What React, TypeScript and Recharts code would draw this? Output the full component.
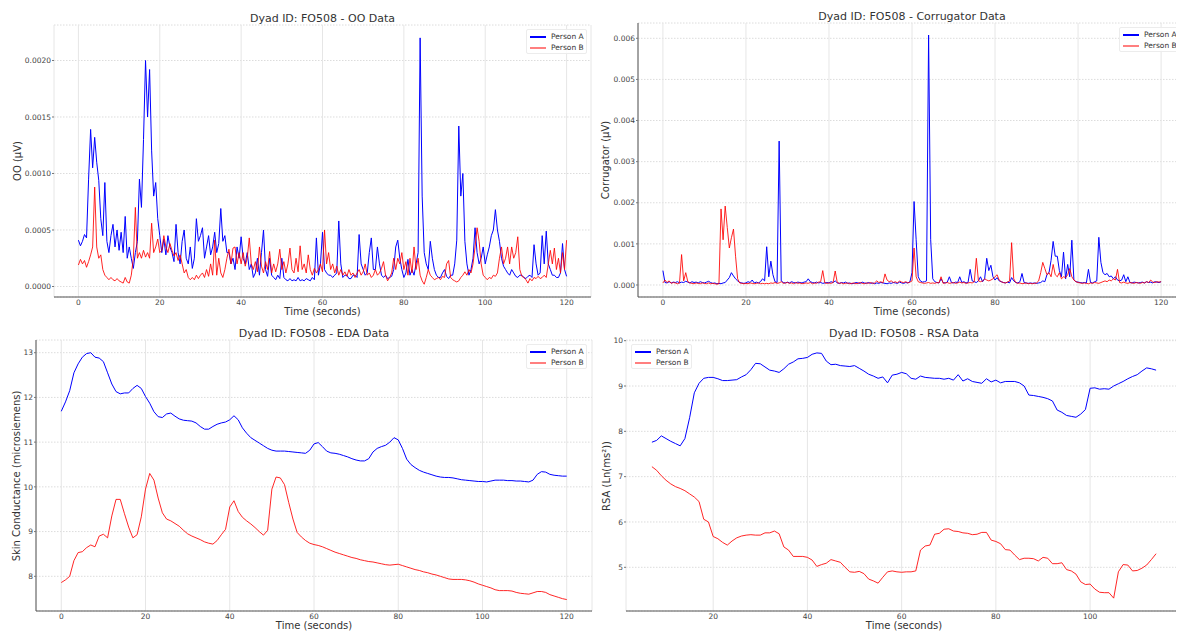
import { LineChart, Line, XAxis, YAxis, CartesianGrid } from "recharts";

const FONT = "'DejaVu Sans', Verdana, sans-serif";
const BLUE = "#0000ff";
const RED = "#ff0000";

// EMG signals are sampled every half second from 0 to 120 s
const EMG_STEP = 0.5;

const OO_A = [
  0.00041, 0.00036, 0.0004, 0.00046, 0.00043, 0.00095, 0.00139, 0.00105, 0.00132, 0.0011,
  0.00094, 0.0006, 0.00045, 0.00092, 0.0004, 0.0003, 0.00045, 0.00055, 0.00035, 0.0005,
  0.00032, 0.00048, 0.0003, 0.00062, 0.00025, 0.00035, 0.00025, 0.00016, 0.0003, 0.0004,
  0.00095, 0.0007, 0.0013, 0.002, 0.0015, 0.00192, 0.0012, 0.0008, 0.00092, 0.0006,
  0.00045, 0.0003, 0.00042, 0.00028, 0.00045, 0.00035, 0.0003, 0.00022, 0.00055, 0.0003,
  0.0002, 0.0004, 0.0005, 0.00025, 0.0002, 0.00035, 0.00016, 0.00025, 0.0006, 0.0004,
  0.00045, 0.00052, 0.00025, 0.00035, 0.00045, 0.00028, 0.00035, 0.00048, 0.0003, 0.00038,
  0.00069, 0.0004, 0.00045, 0.0003, 0.0003, 0.0002, 0.00025, 0.00015, 0.00035, 0.00025,
  0.00044, 0.00025, 0.0002, 0.0003, 0.00015, 0.0002, 0.00008, 0.00012, 0.00025, 0.0001,
  0.0003, 0.0005, 0.00015, 0.00009, 0.00025, 0.0001, 0.00008, 0.00006, 0.0001, 0.00007,
  0.00025, 0.00008, 0.00006, 0.00005, 0.00007, 0.00005, 0.00006, 0.00005, 0.00008, 0.00005,
  0.00006, 0.00005, 0.00007, 0.00006, 0.00005, 0.00008, 0.00006, 0.00043, 0.0001, 0.0002,
  0.00048, 0.00015, 0.00012, 0.0001, 0.0001, 0.00008, 0.0001, 0.00012, 0.00058, 0.0002,
  0.00008, 0.0001, 0.0001, 0.00007, 0.00007, 0.0001, 0.0001, 0.00008, 0.00046, 0.0002,
  0.00015, 0.0001, 0.00012, 0.0003, 0.00043, 0.00015, 0.00015, 0.00035, 0.0002, 0.0001,
  0.00008, 0.0001, 0.00007, 0.00008, 0.00009, 0.00015, 0.00035, 0.00041, 0.00025, 0.00015,
  0.00008, 0.00012, 0.00024, 0.0001, 0.00015, 0.0001, 0.0002, 0.0003, 0.0022, 0.0008,
  0.0003, 0.0002, 0.00015, 0.0004, 0.00025, 0.00015, 0.0001, 0.00008, 0.00008, 0.00012,
  0.00015, 0.00009, 0.00007, 0.0001, 0.0001, 0.0002, 0.00041, 0.00142, 0.0008, 0.001,
  0.0004, 0.0002, 0.0001, 0.00015, 0.00025, 0.00052, 0.0003, 0.0002, 0.00025, 0.00035,
  0.0002, 0.00028, 0.00035, 0.00045, 0.0005, 0.00068, 0.0005, 0.0004, 0.00025, 0.00018,
  0.00015, 0.00012, 0.0001, 0.00015, 0.00012, 0.00009, 0.00008, 0.0001, 0.0001, 0.00008,
  0.00007, 0.00009, 0.0001, 0.00008, 0.00037, 0.0002, 0.0001, 0.00012, 0.00045, 0.0002,
  0.00049, 0.0002, 0.00015, 0.0001, 0.0001, 0.00008, 0.00008, 0.00012, 0.00038, 0.00015,
  0.00009,
];

const OO_B = [
  0.00019, 0.00024, 0.0002, 0.00023, 0.00017, 0.00022, 0.00028, 0.00035, 0.00088, 0.00035,
  0.00025, 0.00028, 0.00015, 0.0001, 0.00008, 0.00006, 0.00008, 0.00006, 0.00005, 0.00007,
  0.00005, 0.00004, 0.00003, 0.00008, 0.00004, 0.00003, 0.0001, 0.00025, 0.0007, 0.00025,
  0.0003, 0.00025, 0.00032, 0.00026, 0.0003, 0.00025, 0.00056, 0.0003, 0.00035, 0.00042,
  0.0003, 0.00032, 0.00045, 0.00035, 0.0003, 0.00038, 0.00032, 0.00027, 0.0003, 0.00023,
  0.00028, 0.0002, 0.00012, 0.00015, 0.00008, 0.00006, 0.00008, 0.00006, 0.0001, 0.00007,
  0.0001, 0.00012, 0.00008, 0.00015, 0.00009, 0.0002, 0.0001, 0.00041, 0.0001, 0.00025,
  0.00012, 0.00008, 0.00015, 0.00025, 0.00033, 0.0002, 0.00034, 0.00035, 0.0002, 0.0003,
  0.0002, 0.0003, 0.00018, 0.00025, 0.00043, 0.0002, 0.00015, 0.00022, 0.00013, 0.00035,
  0.00018, 0.00012, 0.00022, 0.00015, 0.00031, 0.00012, 0.0002, 0.00013, 0.0002, 0.00033,
  0.00015, 0.00022, 0.00012, 0.0002, 0.00034, 0.00015, 0.00012, 0.00025, 0.00013, 0.00036,
  0.00015, 0.0002, 0.00012, 0.00028, 0.00015, 0.0001, 0.00016, 0.00012, 0.00015, 0.0002,
  0.00013, 0.0005, 0.0002, 0.0003, 0.00015, 0.0002, 0.00012, 0.00018, 0.0001, 0.00015,
  0.0001, 0.00013, 0.00009, 0.00015, 0.0001, 0.00012, 0.00008, 0.00012, 0.00015, 0.0001,
  0.00013, 0.0002, 0.0001, 0.00012, 0.00008, 0.0001, 0.00015, 0.0001, 0.00012, 0.00016,
  0.00022, 0.0001, 0.00005, 0.00008, 0.00012, 0.00025, 0.00015, 0.00025, 0.0002, 0.0003,
  0.00015, 0.00022, 0.0001, 0.00025, 0.00012, 0.00035, 0.00015, 0.00025, 0.0001, 0.00005,
  0.00002, 0.00008, 0.00015, 0.0001, 0.00008, 0.00006, 0.00007, 0.00008, 0.00006, 0.00009,
  0.00008, 0.0002, 0.00023, 0.00008, 0.00006, 0.00005, 0.00004, 0.00005, 0.00008, 0.0001,
  0.00013, 0.0001, 0.00015, 0.00012, 0.0002, 0.00035, 0.00052, 0.0004, 0.0002, 0.0001,
  0.00008, 0.00006, 0.00008, 0.00007, 0.0001, 0.00009, 0.00012, 0.00025, 0.00035, 0.0002,
  0.00025, 0.00035, 0.0002, 0.00035, 0.00025, 0.0003, 0.00044, 0.00015, 0.00009, 0.00008,
  0.00006, 0.00003, 0.00007, 0.00005, 0.00008, 0.00007, 0.00009, 0.00007, 0.00008, 0.0001,
  0.00008, 0.0002, 0.00032, 0.0002, 0.00034, 0.00015, 0.00025, 0.00012, 0.0003, 0.00015,
  0.00041,
];

const CORR_A = [
  0.00035, 0.00006, 0.00005, 0.00008, 0.00005, 0.00007, 0.00006, 0.00008, 0.00005, 0.00007,
  0.00006, 0.00009, 0.00007, 0.00005, 0.00008, 0.00006, 0.00007, 0.00005, 0.00008, 0.00006,
  0.00005, 0.00007, 0.00009, 0.00006, 0.00004, 0.00005, 0.00003, 0.00004, 0.00003, 0.00005,
  0.00006, 0.00012, 0.00018, 0.0003, 0.00022, 0.00015, 0.0001, 0.00006, 0.00005, 0.00004,
  0.00005, 0.00008, 0.00006, 0.00012, 0.00005, 0.00007, 0.00005, 0.00008, 0.00015, 0.0001,
  0.00093, 0.0002, 0.00058, 0.00025, 0.00008, 0.00006, 0.0035, 0.0001, 0.00006, 0.00005,
  0.00007, 0.00005, 0.00008, 0.00006, 0.00005, 0.00007, 0.00006, 0.00005, 0.00007, 0.00008,
  0.00015, 0.00008, 0.00006, 0.00005, 0.00007, 0.00005, 0.00006, 0.00004, 0.00005, 0.00006,
  0.00005, 0.00008, 0.00006, 0.0001, 0.00005, 0.00004, 0.00006, 0.00005, 0.00007, 0.00004,
  0.00005, 0.00003, 0.00004, 0.00006, 0.00005, 0.00004, 0.00007, 0.00005, 0.00004, 0.00006,
  0.00004, 0.00005, 0.00003, 0.00005, 0.00004, 0.00006, 0.00005, 0.00004, 0.00003, 0.00005,
  0.00004, 0.00006, 0.00005, 0.00004, 0.00007, 0.00005, 0.00004, 0.00006, 0.00005, 0.00008,
  0.0003, 0.00203, 0.0011, 0.0002, 0.0001, 0.00007, 0.00008, 0.0001, 0.00608, 0.0011,
  0.00015, 0.00008, 0.00006, 0.00005, 0.00015, 0.00006, 0.00005, 0.00007, 0.0002, 0.00006,
  0.00005, 0.00007, 0.00006, 0.0002, 0.00006, 0.00008, 0.00005, 0.00006, 0.00038, 0.0001,
  0.00008, 0.00006, 0.0001, 0.0002, 0.00008, 0.00015, 0.00065, 0.00035, 0.00048, 0.0002,
  0.00012, 0.00018, 0.0001, 0.00008, 0.00006, 0.00005, 0.00007, 0.00005, 0.00018, 0.0001,
  0.00006, 0.00005, 0.00008, 0.00028, 0.00006, 0.00005, 0.00004, 0.00005, 0.00004, 0.00005,
  0.00004, 0.00005, 0.00006, 0.0001, 0.00008, 0.00025, 0.0003, 0.0006, 0.00106, 0.0007,
  0.0007, 0.00035, 0.0002, 0.0008, 0.00015, 0.0005, 0.0002, 0.00109, 0.00012, 0.00008,
  0.00007, 0.00006, 0.00005, 0.00006, 0.00005, 0.00038, 0.00006, 0.00005, 0.00008, 0.0001,
  0.00116, 0.00055, 0.0003, 0.00025, 0.00028, 0.0002, 0.00022, 0.00015, 0.0002, 0.00012,
  0.0001, 0.00012, 0.00025, 0.00008, 0.0002, 0.00006, 0.00005, 0.00007, 0.00006, 0.00005,
  0.00006, 0.00007, 0.00005, 0.00008, 0.00006, 0.00007, 0.00005, 0.00008, 0.00007, 0.00006,
  0.00008,
];

const CORR_B = [
  0.00005, 0.00012, 0.00006, 0.0001, 0.00004, 0.00006, 0.00005, 0.00003, 0.00005, 0.00074,
  0.0001, 0.0003, 0.00008, 0.00005, 0.00004, 0.00003, 0.00005, 0.00004, 0.00003, 0.00005,
  0.00004, 0.00003, 0.00005, 0.00003, 0.00004, 0.00003, 0.00002, 0.00003, 0.00185, 0.0011,
  0.00192, 0.0014, 0.0009, 0.00115, 0.00136, 0.0007, 0.00015, 0.00005, 0.00004, 0.00003,
  0.00004, 0.00003, 0.00005, 0.00004, 0.00003, 0.00004, 0.00005, 0.00003, 0.00004, 0.00003,
  0.00004, 0.00003, 0.00005, 0.00004, 0.00006, 0.00004, 0.00005, 0.00008, 0.00004, 0.00005,
  0.00006, 0.00004, 0.00005, 0.00003, 0.00006, 0.00004, 0.00005, 0.00003, 0.00004, 0.00005,
  0.00004, 0.00006, 0.00003, 0.00005, 0.00004, 0.00007, 0.00008, 0.00035, 0.00005, 0.00004,
  0.00005, 0.00004, 0.00006, 0.00034, 0.00006, 0.00004, 0.00005, 0.00003, 0.00004, 0.00005,
  0.00003, 0.00004, 0.00005, 0.00003, 0.00004, 0.00006, 0.00004, 0.00003, 0.00005, 0.00004,
  0.00006, 0.00004, 0.00005, 0.0001, 0.00006, 0.00008, 0.00005, 0.00027, 0.00012, 0.00008,
  0.0001, 0.00006, 0.00008, 0.00005, 0.0001, 0.00007, 0.00006, 0.00008, 0.00005, 0.00007,
  0.0001, 0.0009, 0.0002, 0.00008, 0.00006, 0.00005, 0.00004, 0.00005, 0.00006, 0.00004,
  0.00005, 0.00004, 0.00006, 0.00005, 0.0002, 0.00004, 0.00005, 0.00006, 0.00004, 0.00005,
  0.00006, 0.00004, 0.00005, 0.00007, 0.00005, 0.00006, 0.00004, 0.00005, 0.00006, 0.00005,
  0.00008, 0.00065, 0.0001, 0.00008, 0.0001, 0.00015, 0.00012, 0.0001, 0.00012, 0.00015,
  0.0002, 0.00025, 0.00012, 0.00008, 0.00006, 0.00005, 0.00007, 0.0001, 0.00103, 0.00015,
  0.00006, 0.00004, 0.00005, 0.00003, 0.00004, 0.00005, 0.00003, 0.00004, 0.00003, 0.00004,
  0.00005, 0.0001, 0.0003, 0.00055, 0.0004, 0.00025, 0.0003, 0.0002, 0.0005, 0.00025,
  0.0002, 0.0003, 0.00015, 0.0002, 0.00018, 0.00025, 0.0004, 0.0002, 0.00012, 0.00008,
  0.00006, 0.00005, 0.00004, 0.00005, 0.00004, 0.00003, 0.00005, 0.00004, 0.00006, 0.00005,
  0.00004, 0.00006, 0.00008, 0.0001, 0.00008, 0.00012, 0.0001, 0.00015, 0.00012, 0.00038,
  0.00006, 0.00005, 0.00007, 0.00005, 0.00004, 0.00006, 0.00005, 0.00004, 0.00006, 0.00005,
  0.00004, 0.00006, 0.00005, 0.00008, 0.00006, 0.00012, 0.00007, 0.00006, 0.00008, 0.00007,
  0.00008,
];

// EDA: one value per second, 0..120 s
const EDA_A = [
  11.69, 11.9, 12.15, 12.55, 12.75, 12.9, 12.98, 13.0, 12.9, 12.88,
  12.8, 12.55, 12.3, 12.13, 12.08, 12.1, 12.1, 12.2, 12.27, 12.2,
  12.02, 11.87, 11.68, 11.57, 11.55, 11.63, 11.65, 11.58, 11.52, 11.49,
  11.48, 11.47, 11.43, 11.35, 11.29, 11.29, 11.35, 11.4, 11.43, 11.45,
  11.5, 11.59, 11.5, 11.32, 11.2, 11.1, 11.04, 10.98, 10.92, 10.86,
  10.82, 10.8, 10.8, 10.8, 10.79, 10.78, 10.77, 10.76, 10.75, 10.82,
  10.96, 10.99, 10.9, 10.8, 10.76, 10.75, 10.73, 10.7, 10.67, 10.63,
  10.6, 10.58, 10.58, 10.63, 10.78, 10.86, 10.9, 10.93, 11.0, 11.1,
  11.05, 10.86, 10.62, 10.5, 10.43, 10.37, 10.33, 10.3, 10.27, 10.24,
  10.22, 10.21, 10.21, 10.2, 10.18, 10.16, 10.15, 10.14, 10.13, 10.12,
  10.12, 10.11, 10.13, 10.15, 10.15, 10.15, 10.14, 10.14, 10.13, 10.13,
  10.12, 10.11, 10.15, 10.28, 10.34, 10.33, 10.28, 10.26, 10.25, 10.24,
  10.24,
];

const EDA_B = [
  7.86, 7.92, 8.0, 8.35, 8.53, 8.55, 8.64, 8.7, 8.66, 8.9,
  8.94, 8.86, 9.35, 9.72, 9.72, 9.4, 9.1, 8.86, 8.93, 9.33,
  9.95, 10.3, 10.15, 9.75, 9.42, 9.28, 9.24, 9.18, 9.12, 9.03,
  8.95, 8.9, 8.86, 8.82, 8.77, 8.74, 8.72, 8.8, 8.93, 9.05,
  9.55, 9.69, 9.45, 9.32, 9.24, 9.17, 9.09, 9.0, 8.92, 9.03,
  9.95, 10.22, 10.2, 10.05, 9.65, 9.28, 8.98, 8.88, 8.8, 8.74,
  8.71, 8.69, 8.66, 8.62, 8.58, 8.54, 8.51, 8.48, 8.45, 8.42,
  8.4, 8.37, 8.35, 8.33, 8.32, 8.3, 8.28, 8.26, 8.25, 8.26,
  8.27, 8.24, 8.21, 8.18, 8.15, 8.13, 8.1, 8.08, 8.05, 8.03,
  8.0, 7.97, 7.94, 7.93, 7.93, 7.93, 7.92, 7.9, 7.87, 7.83,
  7.8, 7.77, 7.74, 7.7, 7.68, 7.68, 7.68, 7.67, 7.64, 7.62,
  7.61, 7.6, 7.63, 7.66, 7.66, 7.64, 7.59, 7.56, 7.53, 7.5,
  7.48,
];

// RSA: one value per second, 7..114 s
const RSA_START = 7;

const RSA_A = [
  7.76, 7.8, 7.9, 7.84, 7.78, 7.73, 7.68, 7.84, 8.3, 8.85,
  9.06, 9.17, 9.19, 9.19, 9.16, 9.12, 9.12, 9.13, 9.14, 9.2,
  9.25, 9.36, 9.5, 9.49, 9.42, 9.35, 9.33, 9.3, 9.38, 9.48,
  9.53, 9.6, 9.61, 9.63, 9.7, 9.73, 9.72, 9.55, 9.47, 9.48,
  9.45, 9.44, 9.43, 9.45, 9.39, 9.33, 9.26, 9.22, 9.17, 9.2,
  9.07, 9.24, 9.26, 9.3, 9.27, 9.17, 9.15, 9.22, 9.19, 9.18,
  9.17, 9.17, 9.15, 9.17, 9.13, 9.25, 9.11, 9.16, 9.1, 9.08,
  9.06, 9.16, 9.09, 9.13, 9.07, 9.1, 9.1, 9.1, 9.07, 9.0,
  8.8, 8.79, 8.77, 8.75, 8.72, 8.67, 8.47, 8.42, 8.35, 8.33,
  8.31, 8.38, 8.48, 8.95, 8.96, 8.93, 8.94, 8.93, 9.0, 9.05,
  9.1, 9.16, 9.21, 9.25, 9.33, 9.4, 9.38, 9.35,
];

const RSA_B = [
  7.22, 7.14, 7.02, 6.92, 6.84, 6.78, 6.74, 6.69, 6.62, 6.55,
  6.45, 6.06, 6.0, 5.68, 5.63, 5.55, 5.49, 5.58, 5.65, 5.69,
  5.71, 5.72, 5.71, 5.71, 5.76, 5.76, 5.8, 5.74, 5.45, 5.38,
  5.24, 5.24, 5.24, 5.22, 5.16, 5.02, 5.06, 5.09, 5.17, 5.14,
  5.11, 5.0, 4.9, 4.89, 4.91, 4.86, 4.74, 4.7, 4.65, 4.78,
  4.9, 4.92, 4.9, 4.89, 4.9, 4.9, 4.92, 5.38, 5.47, 5.49,
  5.73, 5.75, 5.84, 5.85, 5.8, 5.79, 5.76, 5.75, 5.72, 5.73,
  5.77, 5.77, 5.6, 5.57, 5.52, 5.39, 5.38, 5.27, 5.17, 5.2,
  5.2, 5.19, 5.14, 5.22, 5.2, 5.08, 5.08, 5.1, 4.95, 4.92,
  4.85, 4.68, 4.62, 4.63, 4.52, 4.45, 4.44, 4.44, 4.32, 4.9,
  5.06, 5.05, 4.92, 4.93, 4.98, 5.05, 5.17, 5.3,
];

const TIME_TICKS = [0, 20, 40, 60, 80, 100, 120];
const RSA_TIME_TICKS = [20, 40, 60, 80, 100];
const OO_TICKS = [0, 0.0005, 0.001, 0.0015, 0.002];
const CORR_TICKS = [0, 0.001, 0.002, 0.003, 0.004, 0.005, 0.006];
const EDA_TICKS = [8, 9, 10, 11, 12, 13];
const RSA_TICKS = [5, 6, 7, 8, 9, 10];

type Row = { t: number; a: number; b: number };

const ooData: Row[] = OO_A.map((a, i) => ({ t: i * EMG_STEP, a, b: OO_B[i] }));
const corrData: Row[] = CORR_A.map((a, i) => ({ t: i * EMG_STEP, a, b: CORR_B[i] }));
const edaData: Row[] = EDA_A.map((a, i) => ({ t: i, a, b: EDA_B[i] }));
const rsaData: Row[] = RSA_A.map((a, i) => ({ t: RSA_START + i, a, b: RSA_B[i] }));

function CenterText(props: { x: number; y: number; size: number; text: string; vertical?: boolean }) {
  const { x, y, size, text, vertical } = props;
  return (
    <div
      style={{
        position: "absolute",
        left: x,
        top: y,
        transform: `translate(-50%, -50%)${vertical ? " rotate(-90deg)" : ""}`,
        fontSize: size,
        lineHeight: 1,
        whiteSpace: "nowrap",
        color: "#333",
        fontFamily: FONT,
      }}
    >
      {text}
    </div>
  );
}

function SeriesLegend({ x, y }: { x: number; y: number }) {
  const row = (label: string, color: string, opacity: number, top: number) => (
    <div style={{ position: "absolute", left: 0, top, height: 10, width: "100%" }}>
      <div
        style={{
          position: "absolute",
          left: 3,
          top: 4,
          width: 16,
          height: 1.5,
          background: color,
          opacity,
        }}
      />
      <div
        style={{
          position: "absolute",
          left: 24,
          top: 0,
          fontSize: 7.5,
          lineHeight: "10px",
          color: "#333",
          fontFamily: FONT,
          whiteSpace: "nowrap",
        }}
      >
        {label}
      </div>
    </div>
  );
  return (
    <div
      style={{
        position: "absolute",
        left: x,
        top: y,
        width: 61,
        height: 25,
        background: "rgba(255,255,255,0.85)",
        border: "1px solid #ececec",
        borderRadius: 2,
        boxSizing: "border-box",
      }}
    >
      {row("Person A", BLUE, 1, 2)}
      {row("Person B", RED, 0.5, 13)}
    </div>
  );
}

type PanelProps = {
  data: Row[];
  left: number;
  top: number;
  width: number;
  height: number;
  plot: { x0: number; x1: number; y0: number; y1: number };
  xDomain: [number, number];
  xTicks: number[];
  yDomain: [number, number];
  yTicks: number[];
  yFormat: (v: number) => string;
  leftSpine: boolean;
  title: string;
  titleY: number;
  xLabelY: number;
  yLabel: string;
  yLabelX: number;
  legend: { x: number; y: number };
};

function Panel(p: PanelProps) {
  const { x0, x1, y0, y1 } = p.plot;
  const cx = (x0 + x1) / 2;
  const cy = (y0 + y1) / 2;
  const tickStyle = { fontSize: 7.5, fill: "#444", fontFamily: FONT };
  return (
    <div style={{ position: "absolute", left: p.left, top: p.top, width: p.width, height: p.height }}>
      <LineChart
        width={p.width}
        height={p.height}
        data={p.data}
        margin={{ top: y0, right: p.width - x1, bottom: 0, left: 0 }}
      >
        <CartesianGrid vertical={false} stroke="#dcdcdc" strokeDasharray="1.5 1.5" />
        <CartesianGrid horizontal={false} stroke="#e6e6e6" />
        <XAxis
          type="number"
          dataKey="t"
          domain={p.xDomain}
          ticks={p.xTicks}
          allowDataOverflow
          height={p.height - y1}
          axisLine={{ stroke: "#555" }}
          tickLine={false}
          tickSize={2}
          tickMargin={1}
          tick={tickStyle}
        />
        <YAxis
          type="number"
          domain={p.yDomain}
          ticks={p.yTicks}
          allowDataOverflow
          width={x0}
          axisLine={p.leftSpine ? { stroke: "#555" } : false}
          tickLine={{ stroke: "#777" }}
          tickSize={2}
          tickMargin={1}
          tick={tickStyle}
          tickFormatter={p.yFormat}
        />
        <Line
          type="linear"
          dataKey="a"
          stroke={BLUE}
          strokeWidth={1}
          dot={false}
          activeDot={false}
          isAnimationActive={false}
        />
        <Line
          type="linear"
          dataKey="b"
          stroke={RED}
          strokeOpacity={0.85}
          strokeWidth={1}
          dot={false}
          activeDot={false}
          isAnimationActive={false}
        />
      </LineChart>
      <CenterText x={cx} y={p.titleY} size={11} text={p.title} />
      <CenterText x={cx} y={p.xLabelY} size={10} text="Time (seconds)" />
      <CenterText x={p.yLabelX} y={cy} size={10} text={p.yLabel} vertical />
      <SeriesLegend x={p.legend.x} y={p.legend.y} />
    </div>
  );
}

export default function App() {
  return (
    <div
      style={{
        position: "relative",
        width: 1184,
        height: 634,
        margin: "-8px 0 0 -8px",
        overflow: "hidden",
        background: "#fff",
        fontFamily: FONT,
      }}
    >
      <Panel
        data={ooData}
        left={0}
        top={0}
        width={600}
        height={320}
        plot={{ x0: 54, x1: 591, y0: 25, y1: 297 }}
        xDomain={[-6, 126]}
        xTicks={TIME_TICKS}
        yDomain={[-0.0000929, 0.002314]}
        yTicks={OO_TICKS}
        yFormat={(v) => v.toFixed(4)}
        leftSpine={false}
        title="Dyad ID: FO508 - OO Data"
        titleY={18}
        xLabelY={312}
        yLabel="OO (μV)"
        yLabelX={18}
        legend={{ x: 526, y: 29 }}
      />
      <Panel
        data={corrData}
        left={590}
        top={0}
        width={600}
        height={320}
        plot={{ x0: 48, x1: 596, y0: 23, y1: 297 }}
        xDomain={[-6, 126]}
        xTicks={TIME_TICKS}
        yDomain={[-0.000292, 0.006372]}
        yTicks={CORR_TICKS}
        yFormat={(v) => v.toFixed(3)}
        leftSpine
        title="Dyad ID: FO508 - Corrugator Data"
        titleY={16}
        xLabelY={312}
        yLabel="Corrugator (μV)"
        yLabelX={16}
        legend={{ x: 529, y: 27 }}
      />
      <Panel
        data={edaData}
        left={0}
        top={320}
        width={600}
        height={314}
        plot={{ x0: 36, x1: 592, y0: 20, y1: 291 }}
        xDomain={[-6, 126]}
        xTicks={TIME_TICKS}
        yDomain={[7.224, 13.284]}
        yTicks={EDA_TICKS}
        yFormat={(v) => String(v)}
        leftSpine
        title="Dyad ID: FO508 - EDA Data"
        titleY={13}
        xLabelY={306}
        yLabel="Skin Conductance (microsiemens)"
        yLabelX={17}
        legend={{ x: 526, y: 24 }}
      />
      <Panel
        data={rsaData}
        left={590}
        top={320}
        width={600}
        height={314}
        plot={{ x0: 36, x1: 592, y0: 20, y1: 291 }}
        xDomain={[1.5, 119.5]}
        xTicks={RSA_TIME_TICKS}
        yDomain={[4.036, 10.015]}
        yTicks={RSA_TICKS}
        yFormat={(v) => String(v)}
        leftSpine={false}
        title="Dyad ID: FO508 - RSA Data"
        titleY={13}
        xLabelY={306}
        yLabel="RSA (Ln(ms²))"
        yLabelX={17}
        legend={{ x: 41, y: 24 }}
      />
    </div>
  );
}
